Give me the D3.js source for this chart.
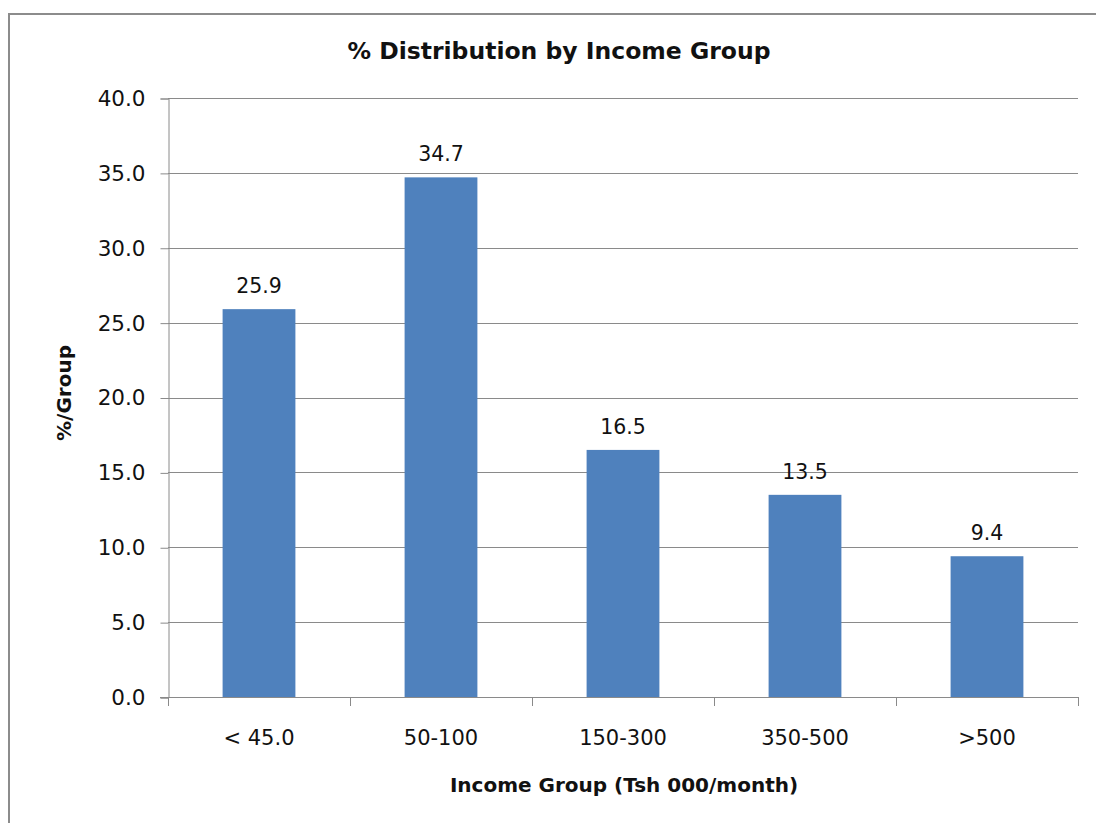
<!DOCTYPE html>
<html>
<head>
<meta charset="utf-8">
<script src="https://cdn.jsdelivr.net/npm/d3@7"></script>
<style>
  html, body { margin: 0; padding: 0; background: #fff; }
  svg { display: block; }
  text { font-family: "DejaVu Sans", "Open Sans", sans-serif; fill: #111; }
</style>
</head>
<body>
<svg id="chart" width="1096" height="823"></svg>
<script>
// Income groups and their share of households (%)
const categories = ["< 45.0", "50-100", "150-300", "350-500", ">500"];
const values = [25.9, 34.7, 16.5, 13.5, 9.4];
const yTicks = [0, 5, 10, 15, 20, 25, 30, 35, 40];

const titleText = "% Distribution by Income Group";
const xTitle = "Income Group (Tsh 000/month)";
const yTitle = "%/Group";

const svg = d3.select("#chart");
const plot = { left: 168, right: 1078, top: 98, bottom: 697 };
const font = "'DejaVu Sans', 'Open Sans', sans-serif";

// outer frame of the chart area
svg.append("rect")
  .attr("x", 9).attr("y", 14)
  .attr("width", 1200).attr("height", 1000)
  .attr("fill", "#fff")
  .attr("stroke", "#8c8c8c").attr("stroke-width", 2);

const x = d3.scaleBand()
  .domain(categories)
  .range([plot.left, plot.right])
  .paddingInner(0.6)
  .paddingOuter(0.3);

const y = d3.scaleLinear()
  .domain([0, 40])
  .range([plot.bottom, plot.top]);

// horizontal gridlines
svg.append("g")
  .selectAll("line")
  .data(yTicks.filter(d => d > 0))
  .join("line")
  .attr("x1", plot.left).attr("x2", plot.right)
  .attr("y1", d => Math.round(y(d)) + 0.5).attr("y2", d => Math.round(y(d)) + 0.5)
  .attr("stroke", "#8a8a8a").attr("stroke-width", 1);

// y axis
const yAxis = svg.append("g")
  .attr("transform", `translate(${plot.left + 0.5},0.5)`)
  .call(d3.axisLeft(y).tickValues(yTicks).tickFormat(d3.format(".1f")).tickSize(8).tickPadding(15));
yAxis.select(".domain").attr("stroke", "#8a8a8a");
yAxis.selectAll(".tick line").attr("stroke", "#8a8a8a");
yAxis.selectAll(".tick text")
  .attr("font-size", 21.5).attr("fill", "#111")
  .style("font-family", font);

// bars
svg.append("g")
  .selectAll("rect")
  .data(values)
  .join("rect")
  .attr("x", (d, i) => x(categories[i]))
  .attr("width", x.bandwidth())
  .attr("y", d => y(d))
  .attr("height", d => y(0) - y(d))
  .attr("fill", "#4f81bd");

// value labels
svg.append("g")
  .selectAll("text")
  .data(values)
  .join("text")
  .attr("x", (d, i) => x(categories[i]) + x.bandwidth() / 2)
  .attr("y", d => y(d) - 16)
  .attr("text-anchor", "middle")
  .attr("font-size", 20.5)
  .text(d => d.toFixed(1));

// x axis with ticks at category boundaries
const boundaries = categories.map(c => x(c) - (x.step() - x.bandwidth()) / 2)
  .concat([plot.right]);
const xAxisG = svg.append("g");
xAxisG.append("line")
  .attr("x1", plot.left - 8).attr("x2", plot.right)
  .attr("y1", plot.bottom + 0.5).attr("y2", plot.bottom + 0.5)
  .attr("stroke", "#8a8a8a");
xAxisG.selectAll("line.tick")
  .data(boundaries)
  .join("line")
  .attr("class", "tick")
  .attr("x1", d => Math.round(d) + 0.5).attr("x2", d => Math.round(d) + 0.5)
  .attr("y1", plot.bottom).attr("y2", plot.bottom + 9)
  .attr("stroke", "#8a8a8a");
xAxisG.selectAll("text")
  .data(categories)
  .join("text")
  .attr("x", d => x(d) + x.bandwidth() / 2)
  .attr("y", 745)
  .attr("text-anchor", "middle")
  .attr("font-size", 21)
  .text(d => d);

// titles
svg.append("text")
  .attr("x", 559).attr("y", 59)
  .attr("text-anchor", "middle")
  .attr("font-size", 23.5).attr("font-weight", "bold")
  .text(titleText);

svg.append("text")
  .attr("x", 624).attr("y", 792)
  .attr("text-anchor", "middle")
  .attr("font-size", 20).attr("font-weight", "bold")
  .text(xTitle);

svg.append("text")
  .attr("transform", `translate(71,393) rotate(-90)`)
  .attr("text-anchor", "middle")
  .attr("font-size", 20).attr("font-weight", "bold")
  .text(yTitle);
</script>
</body>
</html>
